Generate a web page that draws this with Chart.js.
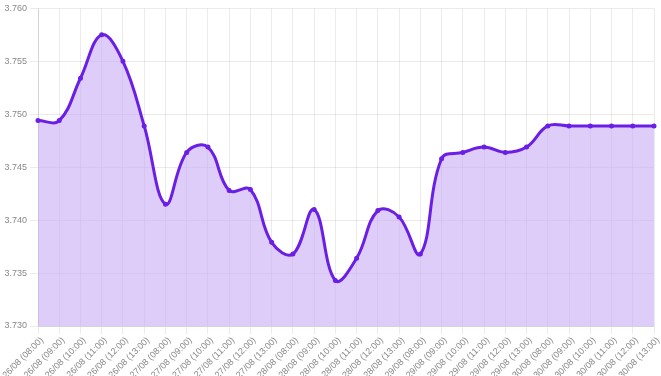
<!DOCTYPE html>
<html>
<head>
<meta charset="utf-8">
<script src="https://cdn.jsdelivr.net/npm/chart.js@4"></script>
<style>
  html, body { margin: 0; padding: 0; background: #fff; }
  #wrap { width: 661px; height: 376px; }
</style>
</head>
<body>
<div id="wrap"><canvas id="chart"></canvas></div>
<script>
const days = ['26/08', '27/08', '28/08', '29/08', '30/08'];
const hours = ['08:00', '09:00', '10:00', '11:00', '12:00', '13:00'];

const rates = [
  3.7494, 3.7494, 3.7534, 3.7575, 3.7550, 3.7489,
  3.7415, 3.7464, 3.7469, 3.7428, 3.7429, 3.7379,
  3.7368, 3.7410, 3.7343, 3.7364, 3.7409, 3.7403,
  3.7368, 3.7458, 3.7464, 3.7469, 3.7464, 3.7469,
  3.7489, 3.7489, 3.7489, 3.7489, 3.7489, 3.7489
];

// one label per hour slot, e.g. "26/08 (08:00)"
const labels = [];
days.forEach(d => hours.forEach(h => labels.push(`${d} (${h})`)));

new Chart(document.getElementById('chart'), {
  type: 'line',
  data: {
    labels: labels,
    datasets: [{
      data: rates,
      borderColor: '#6a1ee6',
      backgroundColor: 'rgba(200, 170, 245, 0.6)',
      borderWidth: 3,
      pointRadius: 1,
      pointBackgroundColor: '#6a1ee6',
      pointBorderColor: '#6a1ee6',
      tension: 0.4,
      fill: 'start'
    }]
  },
  options: {
    responsive: true,
    maintainAspectRatio: false,
    animation: false,
    layout: { padding: { top: 0, right: 4, left: 0 } },
    plugins: { legend: { display: false }, tooltip: { enabled: false } },
    scales: {
      x: {
        grid: { color: 'rgba(0,0,0,0.08)' },
        afterFit: scale => {
          scale.height = 50;
          scale.paddingLeft = 0;
          scale.paddingRight = 0;
        },
        ticks: {
          color: '#888',
          font: { size: 9 },
          minRotation: 45,
          maxRotation: 45,
          autoSkip: false,
          labelOffset: 4,
          padding: 1
        }
      },
      y: {
        min: 3.730,
        max: 3.760,
        grid: { color: 'rgba(0,0,0,0.08)' },
        afterFit: scale => { scale.width = 38; },
        ticks: {
          stepSize: 0.005,
          color: '#888',
          font: { size: 9 },
          callback: v => v.toFixed(3)
        }
      }
    }
  }
});
</script>
</body>
</html>
